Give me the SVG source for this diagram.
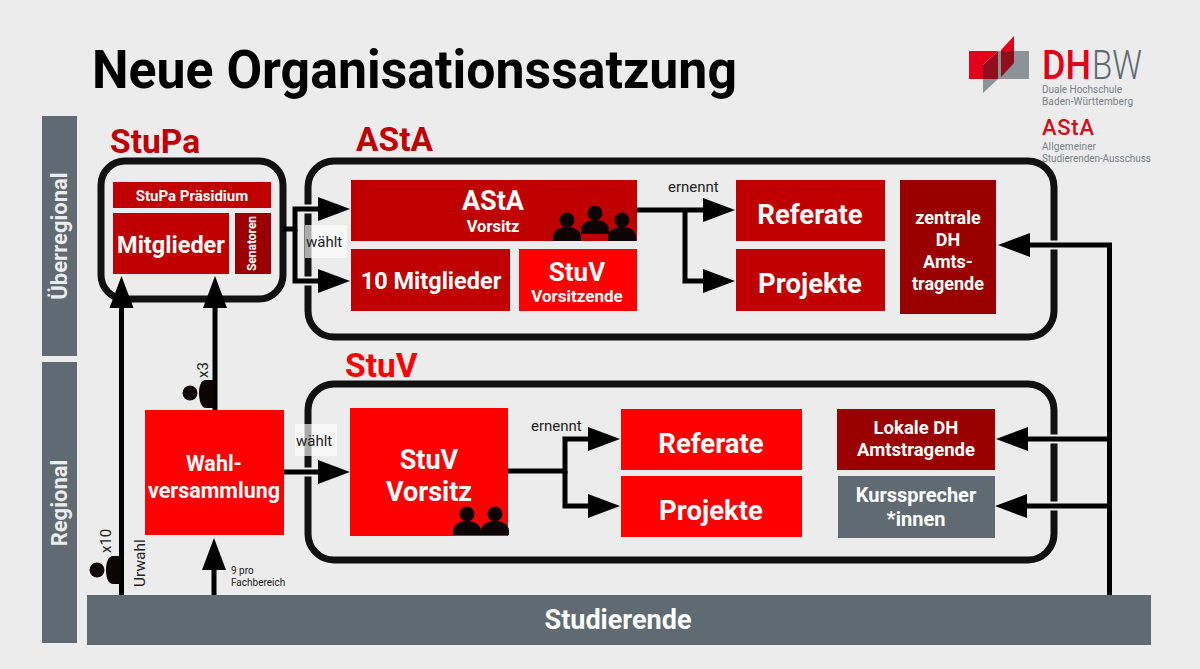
<svg xmlns="http://www.w3.org/2000/svg" width="1200" height="669" viewBox="0 0 1200 669">
<style>
text{font-family:Roboto,"Liberation Sans",sans-serif}
.w{fill:#fff;font-weight:700;text-anchor:middle}
.frame{fill:none;stroke:#111;stroke-width:7}
.c{fill:none;stroke:#000;stroke-width:5}
.a{marker-end:url(#arr)}
.h{fill:none;stroke:#ececec;stroke-width:9}
.dr{fill:#c00000}.r{fill:#ff0000}.d{fill:#9a0000}.g{fill:#5f6a72}
.t{fill:#222;font-size:15px}
.head{font-weight:700;font-size:33.500px}
.p{fill:#0d0505}
.lg{fill:#7b8288;font-size:10px}
</style>
<defs>
<marker id="arr" markerUnits="userSpaceOnUse" markerWidth="33" markerHeight="25" refX="0" refY="12.500" orient="auto"><path d="M0 0.500L32 12.500L0 24.500z" fill="#000"/></marker>
<g id="person"><circle cx="14" cy="-21" r="7.500"/><path d="M0 0V-4C0-11 7-14 14-14S28-11 28-4V0z"/></g>
</defs>
<rect width="1200" height="669" fill="#ececec"/>
<text x="92" y="88" font-size="54" font-weight="700" fill="#000" textLength="645" lengthAdjust="spacingAndGlyphs">Neue Organisationssatzung</text>

<g id="logo">
<rect x="998" y="51" width="31" height="28" fill="#8b9298"/>
<path d="M983 65L998 51V79H983z" fill="#8f0f1c"/>
<path d="M969 51H998L983 65V79H969z" fill="#e2001a"/>
<path d="M983 79H998L983 93z" fill="#8b9298"/>
<path d="M1001 50L1014 36V51H1001z" fill="#e2001a"/>
<path d="M1001 51H1014V63L1001 77z" fill="#8f0f1c"/>
<text x="1042" y="79" font-size="40" font-weight="500" fill="#e2001a" textLength="49" lengthAdjust="spacingAndGlyphs">DH</text>
<text x="1092" y="79" font-size="40" font-weight="300" fill="#5f6a72" textLength="50" lengthAdjust="spacingAndGlyphs">BW</text>
<text class="lg" x="1042" y="93" textLength="80">Duale Hochschule</text>
<text class="lg" x="1042" y="105" textLength="91">Baden-Württemberg</text>
<text x="1042" y="135" font-size="22" font-weight="500" fill="#d0101c" textLength="52">AStA</text>
<text class="lg" x="1042" y="150" textLength="54">Allgemeiner</text>
<text class="lg" x="1042" y="162" textLength="109">Studierenden-Ausschuss</text>
</g>

<g id="side-ueberregional"><rect class="g" x="42" y="116" width="35" height="240"/><text class="w" transform="translate(67 236) rotate(-90)" font-size="22" fill-opacity=".9">Überregional</text></g>
<g id="side-regional"><rect class="g" x="42" y="362" width="35" height="281"/><text class="w" transform="translate(67 503) rotate(-90)" font-size="22" fill-opacity=".9">Regional</text></g>
<g id="studierende"><rect class="g" x="87" y="595" width="1064" height="50"/><text class="w" x="618" y="629" font-size="27">Studierende</text></g>

<rect class="frame" x="101" y="161" width="182" height="138" rx="24"/>
<rect class="frame" x="308" y="161" width="746" height="176" rx="26"/>
<rect class="frame" x="308" y="384" width="746" height="176" rx="26"/>
<text class="head" x="110" y="153" fill="#c00000">StuPa</text>
<text class="head" x="356" y="151" fill="#c00000">AStA</text>
<text class="head" x="345" y="377" fill="#ff0000">StuV</text>

<g id="connectors">
<path class="h" d="M300 209H318M300 281H318M284 472H318M1109 245H1030M1109 439H1028M1109 506H1027"/>
<path class="c a" d="M121.500 595V308"/>
<path class="c a" d="M215 410V308"/>
<path class="c a" d="M214 595V570"/>
<path class="c a" d="M283 229H295V209H318"/>
<path class="c a" d="M295 229V281H318"/>
<path class="c a" d="M284 472H318"/>
<path class="c a" d="M637 210H703"/>
<path class="c a" d="M685 210V281H703"/>
<path class="c a" d="M508 471H565V439H588"/>
<path class="c a" d="M565 471V506H588"/>
<path class="c a" d="M1109.500 595V245H1030"/>
<path class="c a" d="M1109.500 439H1028"/>
<path class="c a" d="M1109.500 506H1027"/>
</g>

<g id="label-waehlt-1"><rect x="305" y="225" width="42" height="33" fill="#fff" fill-opacity=".65"/><text class="t" x="306" y="247">wählt</text></g>
<g id="label-waehlt-2"><rect x="295" y="424" width="42" height="32" fill="#fff" fill-opacity=".65"/><text class="t" x="296" y="446">wählt</text></g>
<text class="t" x="668" y="192">ernennt</text>
<text class="t" x="531" y="431">ernennt</text>
<text class="t" transform="translate(145 587) rotate(-90)" style="font-size:15.500px">Urwahl</text>
<text class="t" transform="translate(111 553) rotate(-90)">x10</text>
<text class="t" transform="translate(208 378) rotate(-90)">x3</text>
<text x="231" y="574" font-size="10" fill="#222">9 pro</text>
<text x="231" y="586" font-size="10" fill="#222">Fachbereich</text>

<g id="person-x10" class="p"><circle cx="97" cy="570" r="7.500"/><path d="M121 556H113C108 556 106 563 106 570S108 584 113 584H121z"/></g>
<g id="person-x3" class="p"><circle cx="190" cy="393" r="7.500"/><path d="M214 380H206C201 380 199 386 199 393S201 408 206 408H214z"/></g>

<g id="stupa-praesidium"><rect class="dr" x="113" y="182" width="158" height="26"/><text class="w" x="192" y="201" font-size="15">StuPa Präsidium</text></g>
<g id="stupa-mitglieder"><rect class="dr" x="113" y="213" width="116" height="61"/><text class="w" x="171" y="253" font-size="23.500">Mitglieder</text></g>
<g id="stupa-senatoren"><rect class="d" x="235" y="213" width="36" height="61"/><text class="w" transform="translate(256 243.500) rotate(-90)" font-size="12">Senatoren</text></g>

<g id="asta-vorsitz"><rect class="dr" x="351" y="180" width="286" height="61"/><text class="w" x="493" y="210" font-size="27">AStA</text><text class="w" x="493" y="232" font-size="16.500">Vorsitz</text>
<g class="p"><use href="#person" x="553" y="241"/><use href="#person" x="581" y="234"/><use href="#person" x="608" y="241"/></g></g>
<g id="asta-mitglieder"><rect class="dr" x="351" y="249" width="159" height="62"/><text class="w" x="431" y="289" font-size="23.500">10 Mitglieder</text></g>
<g id="asta-stuv"><rect class="r" x="519" y="249" width="118" height="62"/><text class="w" x="577" y="281" font-size="26">StuV</text><text class="w" x="577" y="302" font-size="17">Vorsitzende</text></g>
<g id="asta-referate"><rect class="dr" x="736" y="180" width="149" height="61"/><text class="w" x="810" y="224" font-size="27.500">Referate</text></g>
<g id="asta-projekte"><rect class="dr" x="736" y="249" width="149" height="62"/><text class="w" x="810" y="293" font-size="27.500">Projekte</text></g>
<g id="zentrale"><rect class="d" x="900" y="180" width="96" height="134"/><text class="w" x="948" y="224" font-size="18"><tspan x="948">zentrale</tspan><tspan x="948" dy="22">DH</tspan><tspan x="948" dy="22">Amts-</tspan><tspan x="948" dy="22">tragende</tspan></text></g>

<g id="wahlversammlung"><rect class="r" x="145" y="410" width="139" height="125"/><text class="w" x="214" y="471" font-size="21.500">Wahl-</text><text class="w" x="214" y="498" font-size="21.500">versammlung</text></g>
<g id="stuv-vorsitz"><rect class="r" x="350" y="408" width="158" height="128"/><text class="w" x="429" y="469" font-size="27">StuV</text><text class="w" x="429" y="501" font-size="27">Vorsitz</text>
<g class="p"><use href="#person" x="453" y="535"/><use href="#person" x="481" y="535"/></g></g>
<g id="stuv-referate"><rect class="r" x="621" y="409" width="181" height="61"/><text class="w" x="711" y="453" font-size="27.500">Referate</text></g>
<g id="stuv-projekte"><rect class="r" x="621" y="476" width="181" height="61"/><text class="w" x="711" y="520" font-size="27.500">Projekte</text></g>
<g id="lokale"><rect class="d" x="837" y="409" width="158" height="61"/><text class="w" x="916" y="434" font-size="18.500">Lokale DH</text><text class="w" x="916" y="456" font-size="18.500">Amtstragende</text></g>
<g id="kurssprecher"><rect class="g" x="838" y="476" width="157" height="62"/><text class="w" x="916" y="502" font-size="20">Kurssprecher</text><text class="w" x="916" y="526" font-size="20">*innen</text></g>
</svg>
